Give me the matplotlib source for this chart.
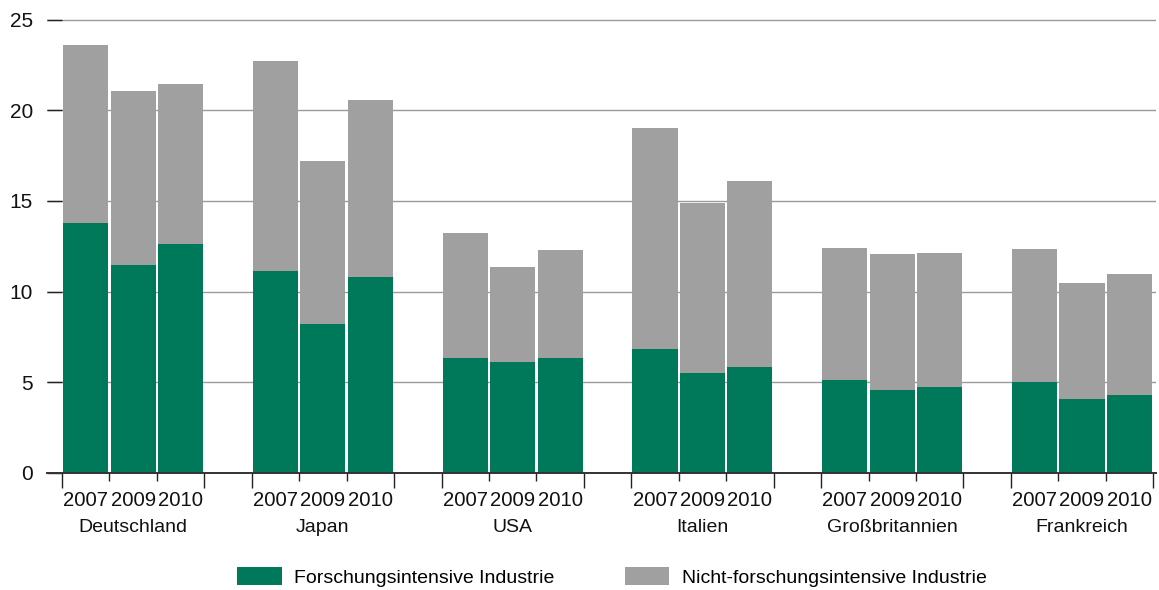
import matplotlib
matplotlib.use("Agg")
import matplotlib.pyplot as plt
from matplotlib.patches import Patch
import numpy as np

# Anteil nach Ländern und Jahren, aufgeteilt nach Industrietyp
countries = ["Deutschland", "Japan", "USA", "Italien", "Großbritannien", "Frankreich"]
years = ["2007", "2009", "2010"]

forschungsintensiv = [
    [13.77, 11.45, 12.61],   # Deutschland
    [11.12, 8.20, 10.79],    # Japan
    [6.33, 6.11, 6.33],      # USA
    [6.83, 5.51, 5.84],      # Italien
    [5.12, 4.57, 4.74],      # Großbritannien
    [5.01, 4.07, 4.30],      # Frankreich
]
nicht_forschungsintensiv = [
    [9.85, 9.59, 8.81],
    [11.57, 8.98, 9.75],
    [6.89, 5.23, 5.95],
    [12.17, 9.36, 10.24],
    [7.27, 7.49, 7.37],
    [7.32, 6.39, 6.66],
]
y_ticks = [0, 5, 10, 15, 20, 25]
series_names = ["Forschungsintensive Industrie", "Nicht-forschungsintensive Industrie"]

GREEN = "#00785a"
GREY = "#a0a0a0"
DARK = "#222222"

plt.rcParams["font.family"] = ["Liberation Sans", "DejaVu Sans"]
plt.rcParams["font.size"] = 14

W, H = 1159, 590
fig = plt.figure(figsize=(W / 100, H / 100), dpi=100)
ax = fig.add_axes([47 / W, 1 - 473 / H, (1156 - 47) / W, (473 - 19) / H])

group_step = 4
bar_w = 0.95
green = np.array(forschungsintensiv)
grey = np.array(nicht_forschungsintensiv)

centers = []
for g in range(len(countries)):
    x = g * group_step + np.arange(len(years))
    centers.append(x)
    ax.bar(x, green[g], width=bar_w, color=GREEN, linewidth=0, zorder=3)
    ax.bar(x, grey[g], bottom=green[g], width=bar_w, color=GREY, linewidth=0, zorder=3)

ax.set_xlim(-0.816, (len(countries) - 1) * group_step + 2.5 + 0.06)
ax.set_ylim(0, 25.03)

# y axis: short dark ticks over light grid lines
ax.set_yticks(y_ticks)
ax.yaxis.grid(True, color="#9a9a9a", linewidth=1.0, zorder=0)
ax.tick_params(axis="y", direction="in", length=10.8, width=1.0, color=DARK,
               pad=10, labelsize=15, labelcolor="#111111")
ax.set_axisbelow(True)

for s in ["top", "right", "left"]:
    ax.spines[s].set_visible(False)
ax.spines["bottom"].set_color("#333333")
ax.spines["bottom"].set_linewidth(1.4)
ax.spines["bottom"].set_zorder(4)

# x axis: long ticks at group edges, short ticks between years
long_ticks, short_ticks = [], []
for g in range(len(countries)):
    base = g * group_step
    long_ticks += [base - 0.5, base + 2.5]
    short_ticks += [base + 0.5, base + 1.5]
ax.set_xticks(long_ticks)
ax.set_xticklabels([])
ax.set_xticks(short_ticks, minor=True)
ax.tick_params(axis="x", which="major", direction="out", length=10.8, width=1.0, color=DARK)
ax.tick_params(axis="x", which="minor", direction="out", length=5.8, width=1.0, color=DARK)

trans = ax.get_xaxis_transform()
for g, name in enumerate(countries):
    for i, yr in enumerate(years):
        ax.annotate(yr, xy=(centers[g][i], 0), xycoords=trans,
                    xytext=(0, -27), textcoords="offset pixels",
                    ha="center", va="center", fontsize=14.6, color="#111111")
    ax.annotate(name, xy=(centers[g][1], 0), xycoords=trans,
                xytext=(0, -55), textcoords="offset pixels",
                ha="center", va="center", fontsize=14, color="#111111")

handles = [Patch(facecolor=GREEN, edgecolor="none"), Patch(facecolor=GREY, edgecolor="none")]
fig.legend(handles, series_names, loc="center", bbox_to_anchor=(612 / W, 1 - 577 / H),
           ncol=2, frameon=False, fontsize=14, handlelength=2.3, handleheight=1.03,
           handletextpad=0.65, columnspacing=3.6, borderaxespad=0, borderpad=0)

fig.savefig("out.png", dpi=100)
